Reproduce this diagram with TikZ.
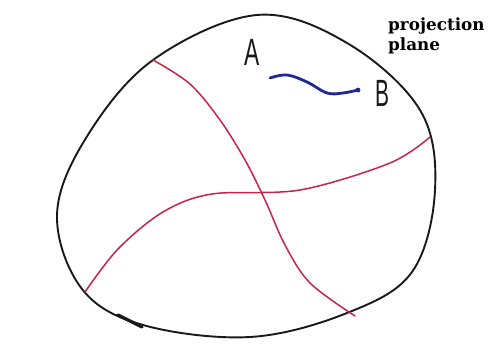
\documentclass[tikz,border=0pt]{standalone}
\usepackage{fontspec}
\newfontfamily\labelfont{DejaVu Serif}
\newfontfamily\handfont{Liberation Sans}
\definecolor{inkblack}{RGB}{25,25,25}
\definecolor{inkred}{RGB}{200,35,75}
\definecolor{inkblue}{RGB}{30,40,150}
\tikzset{
  outline/.style={draw=inkblack, line width=1.9pt, line cap=round, line join=round},
  redline/.style={draw=inkred, line width=1.5pt, line cap=round, line join=round},
  blueline/.style={draw=inkblue, line width=2.8pt, line cap=round, line join=round},
  handletter/.style={font=\handfont\fontsize{38}{40}\selectfont, text=inkblack, inner sep=0pt},
  caption/.style={font=\labelfont\bfseries\fontsize{16.8}{20}\selectfont, align=left, inner sep=0pt, anchor=north west}
}
\begin{document}
\begin{tikzpicture}[x=1pt, y=-1pt]
\useasboundingbox[fill=white] (0,0) rectangle (488,352);
% outline of the plane
\draw[outline] plot[smooth cycle, tension=0.6] coordinates {
 (57,215) (86,138) (153,60) (257,15) (347,43) (420,110) (435,190)
 (412,272) (347,313) (250,337) (143,325) (82,289)};
\draw[draw=inkblack, line width=3.2pt, line cap=round] (118,315) -- (142,327);
% red lines
\draw[redline] plot[smooth, tension=0.55] coordinates {
 (153,60) (190,84) (220,120) (245,160) (265,200) (285,245) (310,283) (355,316)};
\draw[redline] plot[smooth, tension=0.55] coordinates {
 (85,292) (118,249) (163,212) (212,194) (300,190) (390,163) (430,137)};
% blue curve A-B
\draw[blueline] plot[smooth, tension=0.6] coordinates {
 (270,78) (287,75) (307,82) (327,93) (343,93) (358,90)};
\fill[inkblue] (358,90) circle (2.4pt);
% labels
\node[handletter] (A) at (252,52) {\scalebox{0.6}[1]{A}};
\node[handletter] (B) at (382,93) {\scalebox{0.55}[1]{B}};
\node[caption] (plane) at (388,18) {projection\\plane};
\end{tikzpicture}
\end{document}
